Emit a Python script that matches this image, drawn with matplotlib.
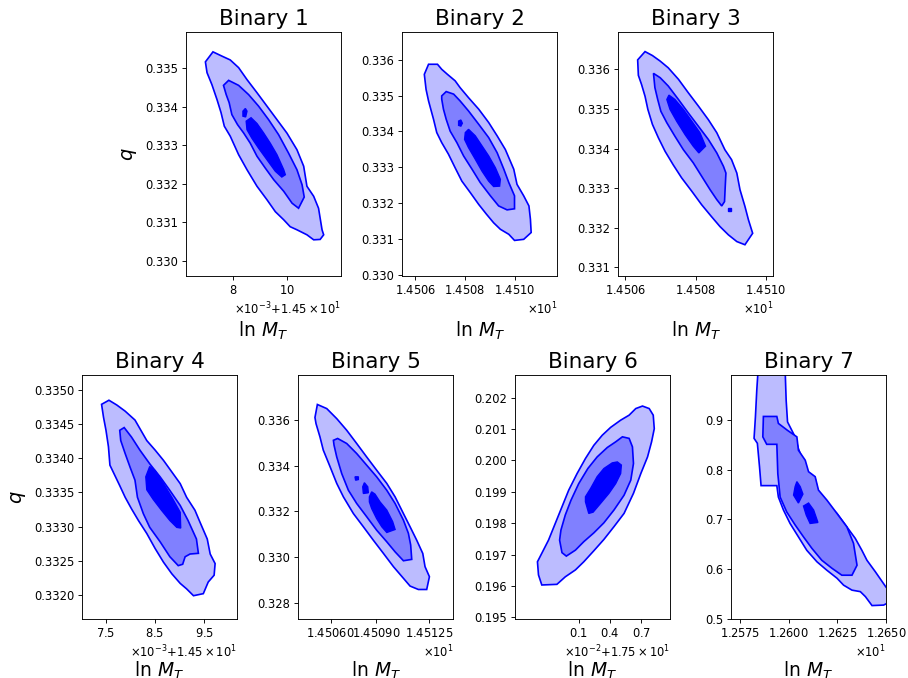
#!/usr/bin/env python

import numpy as np
from matplotlib import pyplot as plt

# credible-region outlines
# each vertex is (ln M_T, q); levels go outer -> middle -> inner

b1_outer = [(14.50698, 0.33517), (14.50726, 0.33543), (14.50759, 0.33532), (14.50790, 0.33522),
            (14.50821, 0.33502), (14.50852, 0.33471), (14.50889, 0.33437), (14.50926, 0.33402),
            (14.50963, 0.33367), (14.51000, 0.33332), (14.51037, 0.33289), (14.51062, 0.33246),
            (14.51074, 0.33194), (14.51099, 0.33168), (14.51117, 0.33137), (14.51130, 0.33081),
            (14.51136, 0.33068), (14.51123, 0.33056), (14.51099, 0.33055), (14.51074, 0.33068),
            (14.51037, 0.33081), (14.51012, 0.33089), (14.50988, 0.33107), (14.50957, 0.33128),
            (14.50926, 0.33159), (14.50889, 0.33194), (14.50852, 0.33237), (14.50821, 0.33276),
            (14.50790, 0.33324), (14.50768, 0.33350), (14.50756, 0.33385), (14.50741, 0.33419),
            (14.50722, 0.33458), (14.50704, 0.33489)]
b1_mid = [(14.50784, 0.33469), (14.50821, 0.33456), (14.50858, 0.33432), (14.50895, 0.33402),
          (14.50932, 0.33367), (14.50969, 0.33328), (14.51006, 0.33280), (14.51037, 0.33237),
          (14.51056, 0.33198), (14.51064, 0.33166), (14.51043, 0.33137), (14.51019, 0.33150),
          (14.50988, 0.33181), (14.50951, 0.33211), (14.50920, 0.33241), (14.50889, 0.33272),
          (14.50864, 0.33306), (14.50840, 0.33332), (14.50817, 0.33354), (14.50796, 0.33380),
          (14.50786, 0.33411), (14.50775, 0.33432), (14.50765, 0.33456)]
b1_inner = [
    [(14.50849, 0.33363), (14.50867, 0.33372), (14.50889, 0.33357), (14.50914, 0.33332),
     (14.50938, 0.33306), (14.50963, 0.33276), (14.50988, 0.33237), (14.50994, 0.33224),
     (14.50981, 0.33218), (14.50957, 0.33233), (14.50926, 0.33263), (14.50895, 0.33293),
     (14.50870, 0.33319), (14.50852, 0.33341)],
    [(14.50837, 0.33389), (14.50846, 0.33396), (14.50852, 0.33389), (14.50847, 0.33374),
     (14.50837, 0.33376)],
]

b2_outer = [(14.50636, 0.33559), (14.50653, 0.33587), (14.50689, 0.33587), (14.50706, 0.33573),
            (14.50729, 0.33559), (14.50760, 0.33541), (14.50780, 0.33522), (14.50814, 0.33494),
            (14.50855, 0.33462), (14.50895, 0.33425), (14.50929, 0.33388), (14.50962, 0.33350),
            (14.50996, 0.33295), (14.51009, 0.33253), (14.51036, 0.33221), (14.51057, 0.33193),
            (14.51063, 0.33156), (14.51066, 0.33119), (14.51036, 0.33100), (14.50999, 0.33097),
            (14.50976, 0.33114), (14.50942, 0.33128), (14.50915, 0.33146), (14.50886, 0.33170),
            (14.50855, 0.33197), (14.50821, 0.33230), (14.50787, 0.33262), (14.50760, 0.33299),
            (14.50733, 0.33337), (14.50706, 0.33369), (14.50686, 0.33397), (14.50673, 0.33434),
            (14.50662, 0.33462), (14.50653, 0.33485), (14.50643, 0.33517)]
b2_mid = [(14.50706, 0.33499), (14.50724, 0.33511), (14.50754, 0.33504), (14.50780, 0.33485),
          (14.50814, 0.33457), (14.50855, 0.33420), (14.50895, 0.33383), (14.50929, 0.33341),
          (14.50956, 0.33295), (14.50976, 0.33258), (14.50999, 0.33221), (14.50999, 0.33185),
          (14.50969, 0.33182), (14.50935, 0.33193), (14.50902, 0.33221), (14.50861, 0.33258),
          (14.50828, 0.33295), (14.50794, 0.33332), (14.50767, 0.33369), (14.50740, 0.33401),
          (14.50724, 0.33434), (14.50713, 0.33462), (14.50706, 0.33490)]
b2_inner = [
    [(14.50801, 0.33397), (14.50814, 0.33406), (14.50841, 0.33388), (14.50868, 0.33360),
     (14.50895, 0.33332), (14.50922, 0.33299), (14.50942, 0.33267), (14.50939, 0.33248),
     (14.50915, 0.33247), (14.50895, 0.33262), (14.50868, 0.33290), (14.50841, 0.33323),
     (14.50814, 0.33355), (14.50798, 0.33378)],
    [(14.50774, 0.33429), (14.50783, 0.33432), (14.50789, 0.33423), (14.50783, 0.33415),
     (14.50774, 0.33417)],
]

b3_outer = [(14.50635, 0.33624), (14.50656, 0.33645), (14.50677, 0.33635), (14.50699, 0.33621),
            (14.50722, 0.33604), (14.50751, 0.33575), (14.50779, 0.33541), (14.50808, 0.33507),
            (14.50836, 0.33473), (14.50860, 0.33440), (14.50883, 0.33397), (14.50902, 0.33372),
            (14.50917, 0.33338), (14.50926, 0.33296), (14.50940, 0.33254), (14.50950, 0.33220),
            (14.50962, 0.33186), (14.50940, 0.33157), (14.50917, 0.33165), (14.50893, 0.33182),
            (14.50869, 0.33203), (14.50845, 0.33228), (14.50817, 0.33258), (14.50789, 0.33292),
            (14.50760, 0.33326), (14.50736, 0.33359), (14.50713, 0.33393), (14.50694, 0.33427),
            (14.50677, 0.33461), (14.50664, 0.33499), (14.50656, 0.33532), (14.50646, 0.33562),
            (14.50637, 0.33585)]
b3_mid = [(14.50680, 0.33590), (14.50699, 0.33579), (14.50722, 0.33558), (14.50751, 0.33524),
          (14.50779, 0.33490), (14.50808, 0.33456), (14.50836, 0.33423), (14.50860, 0.33389),
          (14.50879, 0.33355), (14.50886, 0.33338), (14.50884, 0.33304), (14.50882, 0.33266),
          (14.50874, 0.33255), (14.50860, 0.33271), (14.50841, 0.33296), (14.50817, 0.33330),
          (14.50793, 0.33364), (14.50765, 0.33397), (14.50741, 0.33431), (14.50718, 0.33465),
          (14.50701, 0.33494), (14.50692, 0.33524), (14.50684, 0.33554)]
b3_inner = [
    [(14.50718, 0.33524), (14.50724, 0.33535), (14.50741, 0.33524), (14.50765, 0.33499),
     (14.50789, 0.33469), (14.50812, 0.33440), (14.50828, 0.33406), (14.50809, 0.33389),
     (14.50793, 0.33406), (14.50770, 0.33435), (14.50746, 0.33469), (14.50727, 0.33499)],
    [(14.50893, 0.33250), (14.50899, 0.33250), (14.50899, 0.33243), (14.50893, 0.33243)],
]

b4_outer = [(14.50741, 0.33479), (14.50756, 0.33485), (14.50772, 0.33478), (14.50789, 0.33469),
            (14.50809, 0.33456), (14.50833, 0.33426), (14.50850, 0.33412), (14.50867, 0.33397),
            (14.50884, 0.33380), (14.50901, 0.33363), (14.50914, 0.33343), (14.50931, 0.33324),
            (14.50941, 0.33307), (14.50956, 0.33282), (14.50962, 0.33260), (14.50972, 0.33246),
            (14.50970, 0.33229), (14.50958, 0.33219), (14.50948, 0.33202), (14.50928, 0.33199),
            (14.50914, 0.33209), (14.50901, 0.33217), (14.50884, 0.33231), (14.50867, 0.33248),
            (14.50850, 0.33268), (14.50833, 0.33290), (14.50816, 0.33309), (14.50802, 0.33326),
            (14.50789, 0.33343), (14.50778, 0.33360), (14.50768, 0.33375), (14.50758, 0.33390),
            (14.50755, 0.33417), (14.50750, 0.33441), (14.50745, 0.33460)]
b4_mid = [(14.50778, 0.33441), (14.50787, 0.33445), (14.50802, 0.33431), (14.50819, 0.33412),
          (14.50839, 0.33392), (14.50860, 0.33373), (14.50880, 0.33353), (14.50901, 0.33331),
          (14.50917, 0.33309), (14.50934, 0.33282), (14.50938, 0.33261), (14.50921, 0.33260),
          (14.50911, 0.33256), (14.50906, 0.33245), (14.50897, 0.33243), (14.50880, 0.33256),
          (14.50860, 0.33278), (14.50839, 0.33299), (14.50826, 0.33319), (14.50814, 0.33343),
          (14.50809, 0.33368), (14.50799, 0.33387), (14.50789, 0.33407), (14.50780, 0.33426)]
b4_inner = [
    [(14.50831, 0.33373), (14.50839, 0.33388), (14.50850, 0.33382), (14.50867, 0.33363),
     (14.50884, 0.33343), (14.50901, 0.33321), (14.50902, 0.33298), (14.50894, 0.33299),
     (14.50880, 0.33309), (14.50863, 0.33324), (14.50846, 0.33340), (14.50833, 0.33354)],
]

b5_outer = [(14.50496, 0.33612), (14.50512, 0.33669), (14.50574, 0.33651), (14.50640, 0.33607),
            (14.50706, 0.33556), (14.50772, 0.33498), (14.50838, 0.33439), (14.50904, 0.33381),
            (14.50971, 0.33323), (14.51026, 0.33264), (14.51081, 0.33191), (14.51125, 0.33133),
            (14.51169, 0.33074), (14.51209, 0.33016), (14.51224, 0.32958), (14.51253, 0.32914),
            (14.51235, 0.32858), (14.51180, 0.32858), (14.51125, 0.32873), (14.51081, 0.32907),
            (14.51015, 0.32958), (14.50949, 0.33016), (14.50882, 0.33074), (14.50816, 0.33133),
            (14.50750, 0.33191), (14.50684, 0.33264), (14.50640, 0.33323), (14.50596, 0.33396),
            (14.50551, 0.33469), (14.50529, 0.33527), (14.50503, 0.33585)]
b5_mid = [(14.50618, 0.33512), (14.50646, 0.33520), (14.50706, 0.33498), (14.50772, 0.33454),
          (14.50838, 0.33403), (14.50904, 0.33352), (14.50971, 0.33293), (14.51026, 0.33235),
          (14.51081, 0.33162), (14.51114, 0.33104), (14.51129, 0.33053), (14.51136, 0.32990),
          (14.51081, 0.32984), (14.51026, 0.33023), (14.50971, 0.33067), (14.50904, 0.33118),
          (14.50838, 0.33177), (14.50772, 0.33235), (14.50717, 0.33293), (14.50673, 0.33366),
          (14.50640, 0.33439), (14.50622, 0.33491)]
b5_inner = [
    [(14.50856, 0.33264), (14.50871, 0.33286), (14.50893, 0.33276), (14.50926, 0.33242),
     (14.50971, 0.33206), (14.51010, 0.33155), (14.51026, 0.33121), (14.50971, 0.33108),
     (14.50938, 0.33133), (14.50904, 0.33169), (14.50871, 0.33213), (14.50856, 0.33242)],
    [(14.50812, 0.33308), (14.50823, 0.33326), (14.50845, 0.33308), (14.50849, 0.33282),
     (14.50816, 0.33279)],
    [(14.50761, 0.33352), (14.50783, 0.33352), (14.50783, 0.33340), (14.50765, 0.33337)],
]

b6_outer = [(17.49701, 0.19677), (17.49711, 0.19635), (17.49743, 0.19603), (17.49889, 0.19605),
            (17.49970, 0.19629), (17.50068, 0.19651), (17.50149, 0.19677), (17.50246, 0.19712),
            (17.50343, 0.19748), (17.50441, 0.19789), (17.50538, 0.19831), (17.50629, 0.19895),
            (17.50700, 0.19958), (17.50765, 0.20011), (17.50804, 0.20059), (17.50830, 0.20101),
            (17.50820, 0.20144), (17.50781, 0.20165), (17.50716, 0.20173), (17.50651, 0.20165),
            (17.50587, 0.20144), (17.50505, 0.20128), (17.50408, 0.20105), (17.50327, 0.20080),
            (17.50246, 0.20048), (17.50165, 0.20006), (17.50084, 0.19958), (17.50003, 0.19905),
            (17.49938, 0.19852), (17.49873, 0.19799), (17.49808, 0.19746), (17.49743, 0.19704)]
b6_mid = [(17.49915, 0.19746), (17.49938, 0.19706), (17.49980, 0.19695), (17.50068, 0.19714),
          (17.50149, 0.19741), (17.50246, 0.19769), (17.50343, 0.19801), (17.50441, 0.19842),
          (17.50538, 0.19889), (17.50603, 0.19937), (17.50629, 0.19990), (17.50619, 0.20043),
          (17.50587, 0.20070), (17.50522, 0.20075), (17.50457, 0.20059), (17.50376, 0.20041),
          (17.50278, 0.20011), (17.50188, 0.19974), (17.50100, 0.19926), (17.50025, 0.19873),
          (17.49970, 0.19826), (17.49928, 0.19778)]
b6_inner = [
    [(17.50165, 0.19868), (17.50197, 0.19831), (17.50239, 0.19835), (17.50311, 0.19863),
     (17.50392, 0.19895), (17.50457, 0.19926), (17.50505, 0.19958), (17.50512, 0.19985),
     (17.50473, 0.19995), (17.50424, 0.19992), (17.50343, 0.19974), (17.50278, 0.19948),
     (17.50214, 0.19910), (17.50165, 0.19884)],
]

# binary 7 runs off the top and right edge of its panel
b7_outer = [(12.5846, 1.020), (12.5836, 0.960), (12.5829, 0.906), (12.5822, 0.863), (12.5839, 0.853),
            (12.5850, 0.806), (12.5858, 0.768), (12.5939, 0.768), (12.5947, 0.745), (12.5973, 0.719),
            (12.6007, 0.692), (12.6050, 0.665), (12.6093, 0.638), (12.6145, 0.615), (12.6196, 0.598),
            (12.6248, 0.582), (12.6282, 0.568), (12.6325, 0.558), (12.6368, 0.555), (12.6394, 0.545),
            (12.6428, 0.527), (12.6488, 0.528), (12.6522, 0.535), (12.6522, 0.555), (12.6500, 0.564),
            (12.6445, 0.595), (12.6402, 0.618), (12.6376, 0.638), (12.6342, 0.662), (12.6299, 0.685),
            (12.6248, 0.712), (12.6196, 0.732), (12.6153, 0.752), (12.6136, 0.782), (12.6093, 0.792),
            (12.6076, 0.816), (12.6050, 0.842), (12.6033, 0.866), (12.5994, 0.896), (12.5987, 0.939),
            (12.5980, 1.020)]
b7_mid = [(12.5870, 0.907), (12.5939, 0.907), (12.5947, 0.893), (12.5994, 0.879), (12.6042, 0.866),
          (12.6050, 0.839), (12.6085, 0.819), (12.6102, 0.796), (12.6136, 0.786), (12.6153, 0.759),
          (12.6196, 0.739), (12.6248, 0.712), (12.6299, 0.685), (12.6333, 0.652), (12.6351, 0.608),
          (12.6325, 0.588), (12.6273, 0.588), (12.6222, 0.602), (12.6170, 0.618), (12.6119, 0.642),
          (12.6076, 0.665), (12.6033, 0.689), (12.5990, 0.715), (12.5956, 0.745), (12.5944, 0.792),
          (12.5939, 0.851), (12.5887, 0.851), (12.5867, 0.866)]
b7_inner = [
    [(12.6042, 0.776), (12.6059, 0.766), (12.6073, 0.751), (12.6050, 0.733), (12.6025, 0.749),
     (12.6033, 0.766)],
    [(12.6076, 0.727), (12.6102, 0.733), (12.6128, 0.719), (12.6150, 0.694), (12.6110, 0.692),
     (12.6090, 0.709)],
]

titles = ['Binary 1', 'Binary 2', 'Binary 3', 'Binary 4', 'Binary 5', 'Binary 6', 'Binary 7']

x_ticks = [
    [14.508, 14.510],
    [14.5060, 14.5080, 14.5100],
    [14.5060, 14.5080, 14.5100],
    [14.5075, 14.5085, 14.5095],
    [14.5060, 14.5090, 14.51250],
    [17.501, 17.504, 17.507],
    [12.575, 12.600, 12.625, 12.650],
]
# offset shown under the x ticks (False = plain x10^1 scaling)
x_offsets = [14.5, False, False, 14.5, False, 17.5, False]
y_ticks = [
    [0.330, 0.331, 0.332, 0.333, 0.334, 0.335],
    [0.330, 0.331, 0.332, 0.333, 0.334, 0.335, 0.336],
    [0.331, 0.332, 0.333, 0.334, 0.335, 0.336],
    [0.3320, 0.3325, 0.3330, 0.3335, 0.3340, 0.3345, 0.3350],
    [0.328, 0.330, 0.332, 0.334, 0.336],
    [0.195, 0.196, 0.197, 0.198, 0.199, 0.200, 0.201, 0.202],
    [0.5, 0.6, 0.7, 0.8, 0.9],
]

levels = [
    (b1_outer, b1_mid, b1_inner),
    (b2_outer, b2_mid, b2_inner),
    (b3_outer, b3_mid, b3_inner),
    (b4_outer, b4_mid, b4_inner),
    (b5_outer, b5_mid, b5_inner),
    (b6_outer, b6_mid, b6_inner),
    (b7_outer, b7_mid, b7_inner),
]


def main():
    plt.rcParams.update({
        'xtick.labelsize': 8.3, 'ytick.labelsize': 8.3,
        'xtick.major.size': 2.8, 'ytick.major.size': 2.8,
        'xtick.major.width': 0.65, 'ytick.major.width': 0.65,
        'xtick.major.pad': 2.8, 'ytick.major.pad': 2.8,
        'axes.linewidth': 0.65,
    })
    fig = plt.figure(figsize=(9.08, 6.78), dpi=100)

    w, h = 0.1707, 0.3605
    rects = [(0.2048, 0.5929), (0.4431, 0.5929), (0.6810, 0.5929),
             (0.0903, 0.0870), (0.3285, 0.0870), (0.5672, 0.0870), (0.8051, 0.0870)]
    lims = [
        ((14.50626, 14.51200), (0.32961, 0.335956)),
        ((14.505475, 14.511713), (0.32998, 0.336779)),
        ((14.505801, 14.510208), (0.33078, 0.336955)),
        ((14.507012, 14.510165), (0.331649, 0.335225)),
        ((14.503857, 14.514107), (0.327286, 0.338000)),
        ((17.494842, 17.509821), (0.194946, 0.202732)),
        ((12.57037, 12.65000), (0.5, 0.9911)),
    ]

    for i, (outer, mid, inner) in enumerate(levels):
        ax = fig.add_axes([rects[i][0], rects[i][1], w, h])
        for poly, col in [(outer, '#bcbcff'), (mid, '#8080ff')]:
            p = np.array(poly)
            ax.fill(p[:, 0], p[:, 1], facecolor=col, edgecolor='blue', lw=1.2)
        for poly in inner:
            p = np.array(poly)
            ax.fill(p[:, 0], p[:, 1], facecolor='blue', edgecolor='blue', lw=1.0)

        ax.set_xlim(lims[i][0])
        ax.set_ylim(lims[i][1])
        ax.set_xticks(x_ticks[i])
        ax.set_yticks(y_ticks[i])
        ax.ticklabel_format(axis='x', style='sci', scilimits=(0, 0),
                            useOffset=x_offsets[i], useMathText=True)

        ax.set_title(titles[i], fontsize=15.5, pad=5)
        ax.set_xlabel(r'ln $M_T$', fontsize=13.5)
        ax.xaxis.set_label_coords(0.5, -0.178 if i < 3 else -0.168)
        if i in (0, 3):
            ax.set_ylabel(r'$q$', fontsize=14, labelpad=4.5)

    fig.savefig('out.png', dpi=100)


main()
